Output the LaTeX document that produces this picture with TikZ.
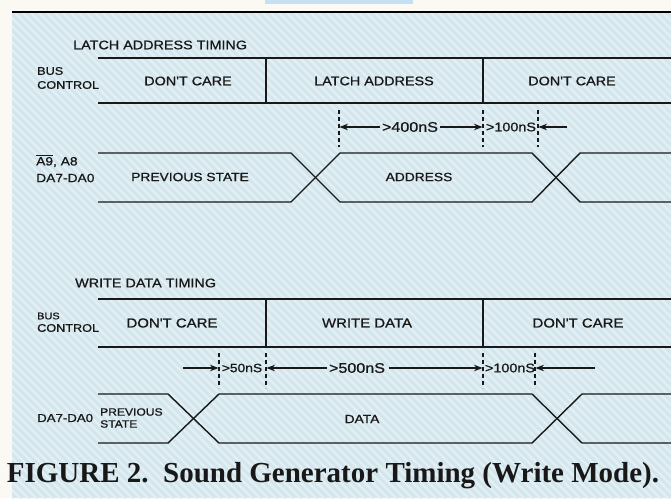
\documentclass[tikz,border=0pt]{standalone}
\usepackage{fontspec}
\setmainfont{Liberation Sans}
\newfontfamily\hand[FakeStretch=1.15,FakeBold=0.9]{Liberation Sans}
\newfontfamily\capfont{Liberation Serif}
\usetikzlibrary{arrows.meta}
\definecolor{paper}{RGB}{250,249,244}
\definecolor{panel}{RGB}{212,230,237}
\definecolor{stripe}{RGB}{227,239,243}
\definecolor{tabblue}{RGB}{196,224,242}
\definecolor{ink}{RGB}{24,24,24}
\tikzset{
  hand/.style={font=\hand\fontsize{12.5}{15}\selectfont, inner sep=0pt, text=ink},
  small/.style={font=\hand\fontsize{11}{12.5}\selectfont, inner sep=0pt, text=ink, align=left},
  tlabel/.style={font=\hand\fontsize{14}{15}\selectfont, inner sep=0pt, text=ink},
  busline/.style={draw=ink, line width=1.8pt},
  sigline/.style={draw=ink, line width=1.4pt, line join=miter},
  marker/.style={draw=ink, line width=1.1pt, dash pattern=on 4pt off 3pt},
  timearrow/.style={draw=ink, line width=1.2pt, -{Stealth[length=8.5pt,width=6.5pt]}},
}
\begin{document}
\begin{tikzpicture}[x=1pt,y=-1pt]
\useasboundingbox (0,0) rectangle (671,498);

% paper, tinted panel and its print screen
\fill[paper] (0,0) rectangle (671,498);
\fill[panel] (12,12) rectangle (671,498);
\begin{scope}
  \clip (12,12) rectangle (671,498);
  \foreach \i in {0,8,...,1200}
    \draw[stripe, line width=2.4pt] (\i-490,12) -- (\i,502);
\end{scope}
\fill[tabblue] (265,0) rectangle (413,4);
\draw[black, line width=2.6pt] (12,12) -- (671,12);

% ---------------- latch address timing ----------------
\node[hand, anchor=west] (latchtitle) at (73,45) {LATCH ADDRESS TIMING};

\coordinate (lbTL) at (98,58);  \coordinate (lbTR) at (671,58);
\coordinate (lbBL) at (98,103); \coordinate (lbBR) at (671,103);
\coordinate (lv1t) at (266,58); \coordinate (lv1b) at (266,103);
\coordinate (lv2t) at (483,58); \coordinate (lv2b) at (483,103);
\draw[busline] (lbTL) -- (lbTR);
\draw[busline] (lbBL) -- (lbBR);
\draw[busline] (lv1t) -- (lv1b);
\draw[busline] (lv2t) -- (lv2b);

\node[small, anchor=west] (lbus) at (37,71) {BUS};
\node[small, anchor=west] (lctl) at (37,85) {CONTROL};
\node[hand] (lcare1) at (188,81) {DON'T CARE};
\node[hand] (laddr)  at (374,81) {LATCH ADDRESS};
\node[hand] (lcare2) at (572,81) {DON'T CARE};

% timing markers
\coordinate (lm1t) at (339,110); \coordinate (lm1b) at (339,147);
\coordinate (lm2t) at (483,110); \coordinate (lm2b) at (483,147);
\coordinate (lm3t) at (538,110); \coordinate (lm3b) at (538,147);
\draw[marker] (lm1t) -- (lm1b);
\draw[marker] (lm2t) -- (lm2b);
\draw[marker] (lm3t) -- (lm3b);

\node[tlabel] (l400) at (410,127) {>400nS};
\node[tlabel, font=\hand\fontsize{12.5}{15}\selectfont] (l100) at (511,127) {>100nS};
\coordinate (la1) at (339.5,127);
\coordinate (la2) at (482.5,127);
\coordinate (la3) at (538.5,127);
\coordinate (la3s) at (567,127);
\draw[timearrow] ([xshift=-2pt]l400.west) -- (la1);
\draw[timearrow] ([xshift=2pt]l400.east) -- (la2);
\draw[timearrow] (la3s) -- (la3);

% address bus waveform
\coordinate (ls0t) at (98,153);  \coordinate (ls0b) at (98,202);
\coordinate (ls1t) at (291,153); \coordinate (ls1b) at (291,202);
\coordinate (ls2t) at (340,153); \coordinate (ls2b) at (340,202);
\coordinate (ls3t) at (532,153); \coordinate (ls3b) at (532,202);
\coordinate (ls4t) at (580,153); \coordinate (ls4b) at (580,202);
\coordinate (ls5t) at (671,153); \coordinate (ls5b) at (671,202);
\draw[sigline] (ls0t) -- (ls1t) -- (ls2b) -- (ls3b) -- (ls4t) -- (ls5t);
\draw[sigline] (ls0b) -- (ls1b) -- (ls2t) -- (ls3t) -- (ls4b) -- (ls5b);

\node[small, anchor=west, font=\hand\fontsize{12}{13}\selectfont] (laddrA) at (36,161)
  {$\overline{\mbox{\hand A9}}$, A8};
\node[small, anchor=west, font=\hand\fontsize{12}{13}\selectfont] (laddrD) at (36,178) {DA7-DA0};
\node[hand, font=\hand\fontsize{12}{14}\selectfont] (lprev) at (190,177) {PREVIOUS STATE};
\node[hand, font=\hand\fontsize{12}{14}\selectfont] (laddress) at (419,177) {ADDRESS};

% ---------------- write data timing ----------------
\node[hand, anchor=west] (writetitle) at (75,283) {WRITE DATA TIMING};

\coordinate (wbTL) at (98,299);  \coordinate (wbTR) at (671,299);
\coordinate (wbBL) at (98,347);  \coordinate (wbBR) at (671,347);
\coordinate (wv1t) at (266,299); \coordinate (wv1b) at (266,347);
\coordinate (wv2t) at (483,299); \coordinate (wv2b) at (483,347);
\draw[busline] (wbTL) -- (wbTR);
\draw[busline] (wbBL) -- (wbBR);
\draw[busline] (wv1t) -- (wv1b);
\draw[busline] (wv2t) -- (wv2b);

\node[small, anchor=west, font=\hand\fontsize{9.5}{11}\selectfont] (wbus) at (37,316) {BUS};
\node[small, anchor=west] (wctl) at (37,328) {CONTROL};
\node[hand, font=\hand\fontsize{13}{15}\selectfont] (wcare1) at (172,323) {DON'T CARE};
\node[hand, font=\hand\fontsize{13}{15}\selectfont] (wdata)  at (367,323) {WRITE DATA};
\node[hand, font=\hand\fontsize{13}{15}\selectfont] (wcare2) at (578,323) {DON'T CARE};

% timing markers
\coordinate (wm1t) at (219,353); \coordinate (wm1b) at (219,388);
\coordinate (wm2t) at (266,353); \coordinate (wm2b) at (266,388);
\coordinate (wm3t) at (483,353); \coordinate (wm3b) at (483,388);
\coordinate (wm4t) at (535,353); \coordinate (wm4b) at (535,388);
\draw[marker] (wm1t) -- (wm1b);
\draw[marker] (wm2t) -- (wm2b);
\draw[marker] (wm3t) -- (wm3b);
\draw[marker] (wm4t) -- (wm4b);

\node[tlabel, font=\hand\fontsize{12}{15}\selectfont] (w50)  at (242,368) {>50nS};
\node[tlabel] (w500) at (357,368) {>500nS};
\node[tlabel, font=\hand\fontsize{12.5}{15}\selectfont] (w100) at (510,368) {>100nS};
\coordinate (wa1s) at (183,368); \coordinate (wa1) at (218.5,368);
\coordinate (wa2) at (266.5,368);
\coordinate (wa3) at (482.5,368);
\coordinate (wa4s) at (595,368); \coordinate (wa4) at (535.5,368);
\draw[timearrow] (wa1s) -- (wa1);
\draw[timearrow] ([xshift=-2pt]w500.west) -- (wa2);
\draw[timearrow] ([xshift=4pt]w500.east) -- (wa3);
\draw[timearrow] (wa4s) -- (wa4);

% data bus waveform
\coordinate (ws0t) at (98,394);  \coordinate (ws0b) at (98,443);
\coordinate (ws1t) at (168,394); \coordinate (ws1b) at (168,443);
\coordinate (ws2t) at (219,394); \coordinate (ws2b) at (219,443);
\coordinate (ws3t) at (532,394); \coordinate (ws3b) at (532,443);
\coordinate (ws4t) at (582,394); \coordinate (ws4b) at (582,443);
\coordinate (ws5t) at (671,394); \coordinate (ws5b) at (671,443);
\draw[sigline] (ws0t) -- (ws1t) -- (ws2b) -- (ws3b) -- (ws4t) -- (ws5t);
\draw[sigline] (ws0b) -- (ws1b) -- (ws2t) -- (ws3t) -- (ws4b) -- (ws5b);

\node[small, anchor=west, font=\hand\fontsize{11.5}{13}\selectfont] (wdataD) at (37,418) {DA7-DA0};
\node[small, anchor=west, font=\hand\fontsize{10.5}{12}\selectfont] (wprev) at (100,418)
  {PREVIOUS\\STATE};
\node[hand, font=\hand\fontsize{12}{14}\selectfont] (wdatalbl) at (362,419) {DATA};

% caption
\node[font=\capfont\bfseries\fontsize{29}{31}\selectfont, inner sep=0pt, text=ink,
      anchor=base] (caption) at (333,482) {FIGURE 2.\ \ Sound Generator Timing (Write Mode).};
\end{tikzpicture}
\end{document}
